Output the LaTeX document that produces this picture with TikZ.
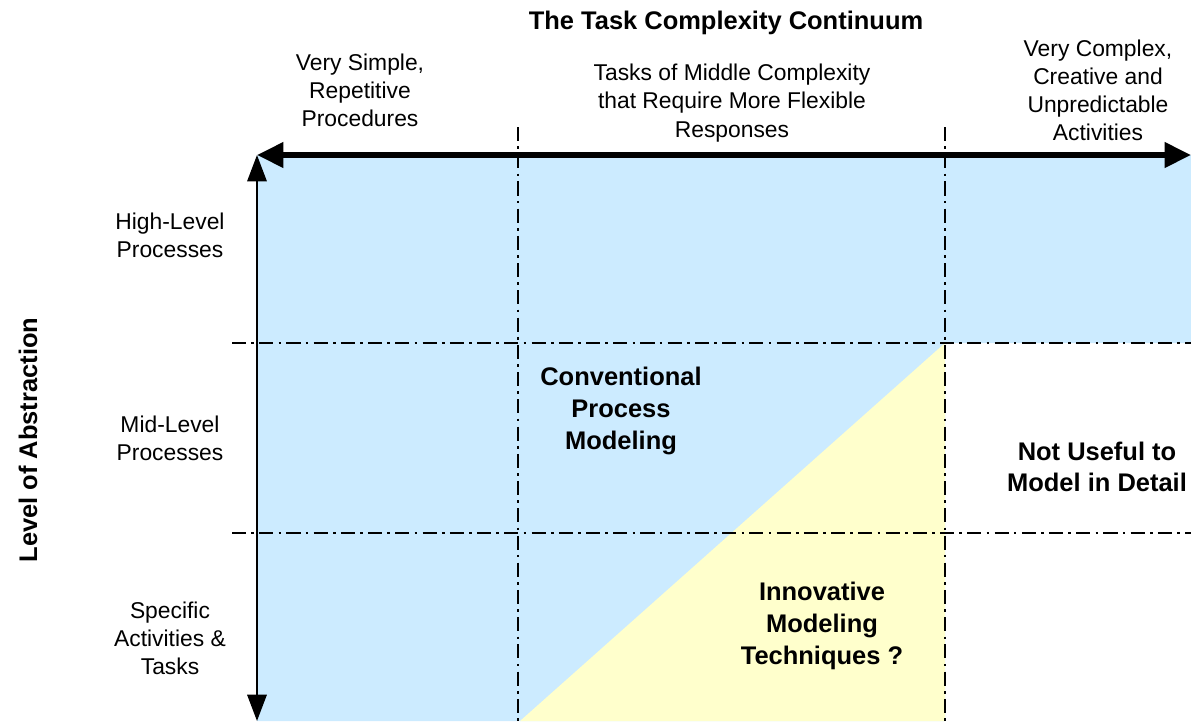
\documentclass[tikz,border=0pt]{standalone}
\usepackage{fontspec}
\setmainfont{Liberation Sans}
\usetikzlibrary{arrows.meta,positioning}
\definecolor{AbsBlue}{HTML}{CCEBFF}
\definecolor{AbsYellow}{HTML}{FFFFCC}

\begin{document}
\begin{tikzpicture}[x=0.02cm,y=-0.02cm,
    lbl/.style={align=center,font=\fontsize{13}{16}\selectfont},
    blbl/.style={align=center,font=\fontsize{14.5}{18}\selectfont\bfseries},
    grid/.style={line width=1.5pt,dash pattern=on 8pt off 3pt on 1.5pt off 3pt},
    harr/.style={{Triangle[length=15pt,width=14pt]}-{Triangle[length=15pt,width=14pt]},line width=3pt},
    varr/.style={{Triangle[length=15pt,width=11pt]}-{Triangle[length=15pt,width=11pt]},line width=1.3pt},
  ]
  \useasboundingbox (0,0) rectangle (1191,721);

  % corner points of the chart
  \coordinate (org)  at (257,155);
  \coordinate (hend) at (1191,155);
  \coordinate (vend) at (257,721);
  \coordinate (apex) at (945,343);
  \coordinate (tri1) at (945,721);
  \coordinate (tri2) at (520,721);

  % shaded regions
  \fill[AbsBlue] (org) -- (hend) -- (1191,343) -- (apex) -- (tri1) -- (vend) -- cycle;
  \fill[AbsYellow] (apex) -- (tri1) -- (tri2) -- cycle;

  % dash-dot grid
  \coordinate (c1t) at (518,127); \coordinate (c1b) at (518,721);
  \coordinate (c2t) at (945,127); \coordinate (c2b) at (945,721);
  \coordinate (r1l) at (232,343); \coordinate (r1r) at (1191,343);
  \coordinate (r2l) at (232,533); \coordinate (r2r) at (1191,533);
  \draw[grid] (c1t) -- (c1b);
  \draw[grid] (c2t) -- (c2b);
  \draw[grid] (r1l) -- (r1r);
  \draw[grid] (r2l) -- (r2r);

  % axes
  \draw[harr] (org) -- (hend);
  \draw[varr] (org) -- (vend);

  % headings
  \node[blbl] (title) at (726,23) {The Task Complexity Continuum};
  \node[lbl] (simple)  at (360,90)  {Very Simple,\\Repetitive\\Procedures};
  \node[lbl] (middle)  at (732,103) {Tasks of Middle Complexity\\that Require More Flexible\\Responses};
  \node[lbl] (complex) at (1098,90) {Very Complex,\\Creative and\\Unpredictable\\Activities};

  \node[blbl,rotate=90] (abstr) at (28,440) {Level of Abstraction};
  \node[lbl] (high) at (170,235) {High-Level\\Processes};
  \node[lbl] (mid)  at (170,438) {Mid-Level\\Processes};
  \node[lbl] (spec) at (170,638) {Specific\\Activities \&\\Tasks};

  % region labels
  \node[blbl] (conv)  at (621,411) {Conventional\\Process\\Modeling};
  \node[blbl] (notus) at (1097,467) {Not Useful to\\Model in Detail};
  \node[blbl] (innov) at (822,626) {Innovative\\Modeling\\Techniques ?};
\end{tikzpicture}
\end{document}
